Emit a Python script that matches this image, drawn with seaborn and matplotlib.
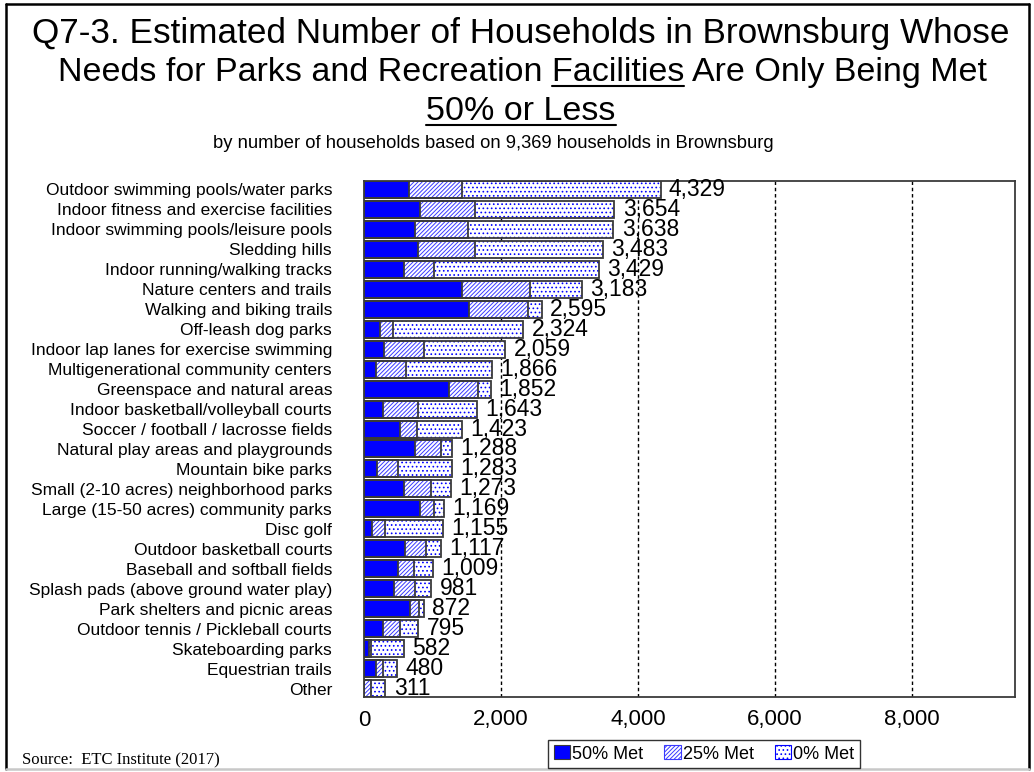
import matplotlib
matplotlib.use("Agg")
import matplotlib.pyplot as plt
from matplotlib.lines import Line2D
from matplotlib.patches import Patch
import numpy as np
import seaborn as sns

# Facilities, ordered from most to fewest households with unmet needs
categories = [
    "Outdoor swimming pools/water parks",
    "Indoor fitness and exercise facilities",
    "Indoor swimming pools/leisure pools",
    "Sledding hills",
    "Indoor running/walking tracks",
    "Nature centers and trails",
    "Walking and biking trails",
    "Off-leash dog parks",
    "Indoor lap lanes for exercise swimming",
    "Multigenerational community centers",
    "Greenspace and natural areas",
    "Indoor basketball/volleyball courts",
    "Soccer / football / lacrosse fields",
    "Natural play areas and playgrounds",
    "Mountain bike parks",
    "Small (2-10 acres) neighborhood parks",
    "Large (15-50 acres) community parks",
    "Disc golf",
    "Outdoor basketball courts",
    "Baseball and softball fields",
    "Splash pads (above ground water play)",
    "Park shelters and picnic areas",
    "Outdoor tennis / Pickleball courts",
    "Skateboarding parks",
    "Equestrian trails",
    "Other",
]

# Households whose needs are 50% met / 25% met
met50 = [660, 822, 745, 784, 579, 1426, 1528, 234, 297, 170, 1236, 277, 526,
         750, 185, 589, 822, 122, 603, 501, 433, 667, 277, 78, 170, 0]
met25 = [776, 798, 778, 836, 448, 992, 871, 184, 584, 448, 433, 507, 253,
         374, 316, 394, 205, 180, 302, 234, 317, 141, 244, 29, 112, 100]
# Total households with needs met 50% or less (50% + 25% + 0% met)
totals = [4329, 3654, 3638, 3483, 3429, 3183, 2595, 2324, 2059, 1866, 1852,
          1643, 1423, 1288, 1283, 1273, 1169, 1155, 1117, 1009, 981, 872,
          795, 582, 480, 311]

xticks = [0, 2000, 4000, 6000, 8000]
legend_labels = ["50% Met", "25% Met", "0% Met"]

sns.set_theme(style="white")
plt.rcParams["font.family"] = ["Liberation Sans", "DejaVu Sans"]
plt.rcParams["text.color"] = "black"
plt.rcParams["xtick.color"] = "black"
plt.rcParams["ytick.color"] = "black"
plt.rcParams["hatch.linewidth"] = 0.7

BLUE = "#0000ff"
HATCH_BLUE = "#3a3aff"
EDGE = "#3a3a3a"
HATCH_LINES = "////////"
HATCH_DOTS = "...."
FW, FH = 1034, 772


def fx(px):
    return px / FW


def fy(px):
    return 1 - px / FH


fig = plt.figure(figsize=(FW / 100, FH / 100), dpi=100)
fig.patch.set_facecolor("white")
ax = fig.add_axes([fx(364), fy(697), (1015 - 364) / FW, (697 - 181) / FH])
ax.set_facecolor("white")

cum25 = np.array(met50) + np.array(met25)
bar_w = 0.85

# Stacked bars: full total (dotted), then 50%+25% (hatched), then 50% (solid)
sns.barplot(x=totals, y=categories, orient="h", color="white", saturation=1,
            edgecolor=BLUE, linewidth=0, hatch=HATCH_DOTS, width=bar_w,
            errorbar=None, ax=ax, zorder=2)
sns.barplot(x=cum25, y=categories, orient="h", color="white", saturation=1,
            edgecolor=HATCH_BLUE, linewidth=0, hatch=HATCH_LINES, width=bar_w,
            errorbar=None, ax=ax, zorder=3)
sns.barplot(x=met50, y=categories, orient="h", color=BLUE, saturation=1,
            linewidth=0, width=bar_w, errorbar=None, ax=ax, zorder=4)
# Segment outlines
for vals in (totals, cum25, met50):
    sns.barplot(x=vals, y=categories, orient="h", color=EDGE, fill=False,
                linewidth=1.3, width=bar_w, errorbar=None, ax=ax, zorder=5)

# Total value labels
for i, t in enumerate(totals):
    ax.annotate(f"{t:,}", xy=(t, i), xytext=(6, 0), textcoords="offset points",
                ha="left", va="center", fontsize=16.5, color="black", zorder=6)

ax.set_xlim(0, 9500)
ax.set_ylim(len(categories) - 1 + bar_w / 2, -bar_w / 2)
ax.set_xticks(xticks)
ax.set_xticklabels([f"{v:,}" for v in xticks], fontsize=16)
ax.tick_params(axis="x", length=0, pad=9)
ax.tick_params(axis="y", length=0, pad=23, labelsize=12.5)
ax.set_xlabel("")
ax.set_ylabel("")

ax.set_axisbelow(True)
for v in xticks[1:]:
    ax.axvline(v, color="black", lw=1.0, ls=(0, (2.5, 2)), zorder=0.5)
for s in ax.spines.values():
    s.set_visible(True)
    s.set_color(EDGE)
    s.set_linewidth(1.3)

# Titles
TITLE_SIZE = 24.5
fig.text(fx(521), fy(42.5),
         "Q7-3. Estimated Number of Households in Brownsburg Whose",
         ha="center", va="baseline", fontsize=25.3)
line2_head = "Needs for Parks and Recreation "
line2_word = "Facilities"
line2_tail = " Are Only Being Met"
t2 = fig.text(fx(522), fy(81), line2_head + line2_word + line2_tail,
              ha="center", va="baseline", fontsize=TITLE_SIZE)
t3 = fig.text(fx(521), fy(119.5), "50% or Less",
              ha="center", va="baseline", fontsize=TITLE_SIZE)
fig.text(fx(493), fy(143),
         "by number of households based on 9,369 households in Brownsburg",
         ha="center", va="center", fontsize=13.2)
fig.text(fx(22), fy(760), "Source:  ETC Institute (2017)",
         ha="left", va="center", fontsize=12, family=["Liberation Serif"])

# Underlines under "Facilities" and "50% or Less"
renderer = fig.canvas.get_renderer()


def text_width(s):
    tmp = fig.text(0, 0, s, fontsize=TITLE_SIZE)
    w = tmp.get_window_extent(renderer).width
    tmp.remove()
    return w


bb2 = t2.get_window_extent(renderer)
word_end = bb2.x0 + text_width(line2_head + line2_word)
word_start = word_end - text_width(line2_word)
ul2 = FH - 86
fig.add_artist(Line2D([word_start / FW, word_end / FW], [ul2 / FH, ul2 / FH],
                      transform=fig.transFigure, color="black", lw=1.5))
bb3 = t3.get_window_extent(renderer)
ul3 = FH - 124.5
fig.add_artist(Line2D([bb3.x0 / FW, bb3.x1 / FW], [ul3 / FH, ul3 / FH],
                      transform=fig.transFigure, color="black", lw=1.5))

# Legend
handles = [
    Patch(facecolor=BLUE, edgecolor=EDGE, linewidth=0.8),
    Patch(facecolor="white", edgecolor=HATCH_BLUE, hatch=HATCH_LINES, linewidth=0.8),
    Patch(facecolor="white", edgecolor=BLUE, hatch=HATCH_DOTS, linewidth=0.8),
]
leg = fig.legend(handles, legend_labels, loc="center",
                 bbox_to_anchor=(fx(704), fy(754)), ncol=3,
                 fontsize=13, frameon=True, fancybox=False,
                 handlelength=0.9, handleheight=0.8, handletextpad=0.1,
                 columnspacing=1.2, borderpad=0.3, borderaxespad=0)
leg.get_frame().set_edgecolor("black")
leg.get_frame().set_linewidth(1.0)

# Page frame
x0, x1, y0, y1 = fx(5.5), fx(1029), fy(3.5), fy(769)
for xs, ys, c in (([x0, x0], [y1, y0], "black"), ([x0, x1], [y0, y0], "black"),
                  ([x1, x1], [y0, y1], "black"), ([x0, x1], [y1, y1], "#c8c8c8")):
    fig.add_artist(Line2D(xs, ys, transform=fig.transFigure, color=c, lw=1.8))

fig.savefig("out.png", dpi=100, facecolor="white")
